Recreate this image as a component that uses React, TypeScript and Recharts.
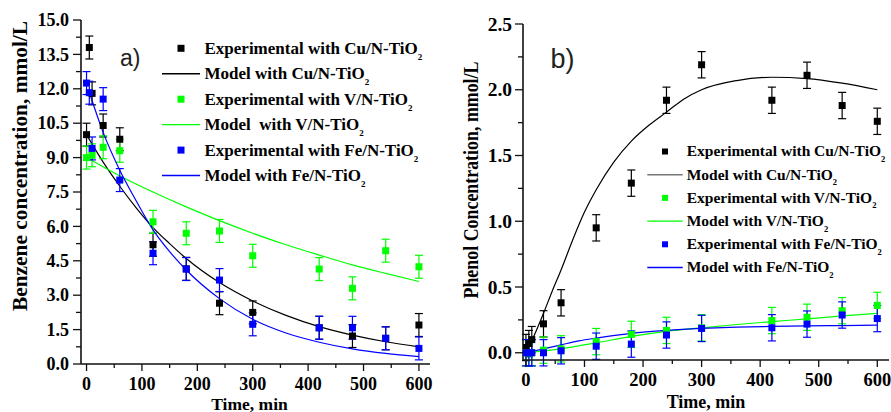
import React from 'react';
import { ComposedChart, Scatter, Line, XAxis, YAxis, ErrorBar } from 'recharts';

const SERIF = '"Liberation Serif", "Times New Roman", Times, serif';
const SANS = '"Liberation Sans", Arial, Helvetica, sans-serif';
const AXIS = '#111111';
const CU = '#000000';
const V = '#00ff00';
const FE = '#0000ff';

// ---------- a) benzene concentration, mmol/L ----------
const benzeneCuTime = [0, 5, 10, 30, 60, 120, 180, 240, 300, 420, 480, 540, 600];
const benzeneCu = [10.0, 13.8, 11.8, 10.4, 9.8, 5.2, 4.15, 2.65, 2.25, 1.58, 1.22, 1.12, 1.7];
const benzeneVTime = [0, 10, 30, 60, 120, 180, 240, 300, 420, 480, 540, 600];
const benzeneV = [9.0, 9.1, 9.45, 9.3, 6.2, 5.7, 5.8, 4.72, 4.14, 3.3, 4.94, 4.24];
const benzeneFeTime = [0, 5, 10, 30, 60, 120, 180, 240, 300, 420, 480, 540, 600];
const benzeneFe = [12.25, 11.83, 9.4, 11.55, 8.02, 4.83, 4.14, 3.66, 1.73, 1.58, 1.58, 1.12, 0.68];
const benzeneError = 0.5;

const benzeneModelCuTime = [0, 30, 60, 90, 120, 150, 180, 240, 300, 360, 420, 480, 540, 600];
const benzeneModelCu = [10.0, 8.8, 7.75, 6.8, 5.95, 5.25, 4.6, 3.55, 2.75, 2.12, 1.63, 1.26, 0.97, 0.75];
const benzeneModelVTime = [0, 60, 120, 180, 240, 300, 360, 420, 480, 540, 600];
const benzeneModelV = [9.0, 8.2, 7.5, 6.85, 6.25, 5.7, 5.2, 4.75, 4.32, 3.95, 3.6];
const benzeneModelFeTime = [5, 30, 60, 90, 120, 150, 180, 240, 300, 360, 420, 480, 540, 600];
const benzeneModelFe = [11.85, 10.1, 8.45, 7.1, 5.85, 4.9, 4.1, 2.85, 1.95, 1.35, 0.95, 0.66, 0.46, 0.32];

const benzeneTicks = [0, 1.5, 3, 4.5, 6, 7.5, 9, 10.5, 12, 13.5, 15];
const benzeneMinorTicks = [0.75, 2.25, 3.75, 5.25, 6.75, 8.25, 9.75, 11.25, 12.75, 14.25];

// ---------- b) phenol concentration, mmol/L ----------
const phenolTime = [0, 5, 10, 30, 60, 120, 180, 240, 300, 420, 480, 540, 600];
const phenolCu = [0.04, 0.07, 0.1, 0.22, 0.38, 0.95, 1.29, 1.92, 2.19, 1.92, 2.11, 1.88, 1.76];
const phenolV = [0, 0, 0, 0.02, 0.03, 0.085, 0.14, 0.17, 0.19, 0.245, 0.27, 0.32, 0.36];
const phenolFe = [0, 0, 0, 0, 0.015, 0.05, 0.066, 0.135, 0.185, 0.19, 0.218, 0.287, 0.26];
const phenolError = 0.1;

const phenolModelCuTime = [0, 15, 30, 45, 60, 80, 100, 120, 150, 180, 210, 240, 270, 300, 360, 420, 480, 540, 600];
const phenolModelCu = [0, 0.14, 0.3, 0.47, 0.63, 0.86, 1.07, 1.24, 1.45, 1.61, 1.73, 1.83, 1.93, 2.0, 2.07, 2.095, 2.085, 2.05, 2.0];
const phenolModelVTime = [0, 60, 120, 180, 240, 300, 360, 420, 480, 540, 600];
const phenolModelV = [0, 0.03, 0.075, 0.125, 0.163, 0.19, 0.215, 0.237, 0.258, 0.28, 0.3];
const phenolModelFeTime = [0, 30, 60, 90, 120, 180, 240, 300, 360, 420, 480, 540, 600];
const phenolModelFe = [0, 0.03, 0.06, 0.09, 0.112, 0.148, 0.17, 0.185, 0.195, 0.2, 0.204, 0.207, 0.21];

const phenolTicks = [0, 0.5, 1, 1.5, 2, 2.5];
const phenolMinorTicks = [0.25, 0.75, 1.25, 1.75, 2.25];

// ---------- shared time axis ----------
const timeTicks = [0, 100, 200, 300, 400, 500, 600];
const timeMinorTicks = [50, 150, 250, 350, 450, 550];

const legendLabels = [
  'Experimental with Cu/N-TiO',
  'Model with Cu/N-TiO',
  'Experimental with V/N-TiO',
  'Model  with V/N-TiO',
  'Experimental with Fe/N-TiO',
  'Model with Fe/N-TiO',
];
const legendLabelsB = [
  'Experimental with Cu/N-TiO',
  'Model with Cu/N-TiO',
  'Experimental with V/N-TiO',
  'Model with V/N-TiO',
  'Experimental with Fe/N-TiO',
  'Model with Fe/N-TiO',
];

const points = (t: number[], v: number[], err: number) => t.map((x, i) => ({ t: x, v: v[i], e: err }));
const curve = (t: number[], v: number[]) => t.map((x, i) => ({ t: x, v: v[i] }));
const allTicks = (a: number[], b: number[]) => [...a, ...b].sort((p, q) => p - q);

const square = (color: string, side: number) => (p: any) =>
  p.cx == null ? <g /> : <rect x={p.cx - side / 2} y={p.cy - side / 2} width={side} height={side} fill={color} />;

const labelFont = { fontFamily: SERIF, fontWeight: 700, fill: '#000' } as const;

const bottomTick = (majors: number[], size: number, dy: number) => (p: any) => {
  const v = p.payload.value;
  const major = majors.includes(v);
  return (
    <g>
      <line x1={p.x} x2={p.x} y1={p.y} y2={p.y + (major ? 7 : 4)} stroke={AXIS} strokeWidth={1.3} />
      {major && (
        <text x={p.x} y={p.y + dy} textAnchor="middle" fontSize={size} {...labelFont}>
          {v}
        </text>
      )}
    </g>
  );
};

const leftTick = (majors: number[], size: number, gap: number) => (p: any) => {
  const v = p.payload.value;
  const major = majors.includes(v);
  return (
    <g>
      <line x1={p.x - (major ? 8 : 5)} x2={p.x} y1={p.y} y2={p.y} stroke={AXIS} strokeWidth={1.3} />
      {major && (
        <text x={p.x - gap} y={p.y + size * 0.34} textAnchor="end" fontSize={size} {...labelFont}>
          {v.toFixed(1)}
        </text>
      )}
    </g>
  );
};

const topTick = (p: any) => <line x1={p.x} x2={p.x} y1={p.y} y2={p.y + 4} stroke={AXIS} strokeWidth={1.2} />;
const rightTick = (p: any) => <line x1={p.x - 4} x2={p.x} y1={p.y} y2={p.y} stroke={AXIS} strokeWidth={1.2} />;

const axisLine = { stroke: AXIS, strokeWidth: 1.6 };

type Legend = { x: number; y0: number; step: number; size: number; sub: number; subDy: number; lineX: [number, number]; sq: number; cuLine: string; labels: string[] };

function LegendBlock({ x, y0, step, size, sub, subDy, lineX, sq, cuLine, labels }: Legend) {
  const colors = [CU, cuLine, V, V, FE, FE];
  return (
    <g>
      {labels.map((label, i) => {
        const cy = y0 + i * step;
        const isModel = i % 2 === 1;
        const mid = (lineX[0] + lineX[1]) / 2;
        return (
          <g key={label}>
            {isModel ? (
              <line x1={lineX[0]} x2={lineX[1]} y1={cy} y2={cy} stroke={colors[i]} strokeWidth={1.4} />
            ) : (
              <rect x={mid - sq / 2} y={cy - sq / 2} width={sq} height={sq} fill={colors[i]} />
            )}
            <text x={x} y={cy + size * 0.32} fontSize={size} {...labelFont} style={{ whiteSpace: 'pre' }}>
              {label}
              <tspan fontSize={sub} dy={subDy}>2</tspan>
            </text>
          </g>
        );
      })}
    </g>
  );
}

function BenzenePanel() {
  return (
    <ComposedChart width={440} height={412} margin={{ top: 20, right: 10, left: 0, bottom: 0 }} style={{ position: 'absolute', left: 0, top: 0 }}>
      <XAxis xAxisId="b" dataKey="t" type="number" domain={[-10, 620]} allowDataOverflow ticks={allTicks(timeTicks, timeMinorTicks)} interval={0}
        height={48} tickSize={0} tickMargin={0} tickLine={false} axisLine={axisLine} tick={bottomTick(timeTicks, 18, 26)} />
      <XAxis xAxisId="top" orientation="top" dataKey="t" type="number" domain={[-10, 620]} allowDataOverflow ticks={allTicks(timeTicks, timeMinorTicks)} interval={0}
        height={0} tickSize={0} tickMargin={0} tickLine={false} axisLine={axisLine} tick={topTick} />
      <YAxis yAxisId="l" type="number" domain={[0, 15]} allowDataOverflow ticks={allTicks(benzeneTicks, benzeneMinorTicks)} interval={0}
        width={81} tickSize={0} tickMargin={0} tickLine={false} axisLine={axisLine} tick={leftTick(benzeneTicks, 18, 12)} />
      <YAxis yAxisId="r" orientation="right" type="number" domain={[0, 15]} allowDataOverflow ticks={allTicks(benzeneTicks, benzeneMinorTicks)} interval={0}
        width={0} tickSize={0} tickMargin={0} tickLine={false} axisLine={axisLine} tick={rightTick} />

      <Scatter xAxisId="b" yAxisId="l" data={points(benzeneCuTime, benzeneCu, benzeneError)} dataKey="v" shape={square(CU, 7)} isAnimationActive={false}>
        <ErrorBar dataKey="e" direction="y" width={4} stroke={CU} strokeWidth={1.2} />
      </Scatter>
      <Line xAxisId="b" yAxisId="l" data={curve(benzeneModelCuTime, benzeneModelCu)} dataKey="v" type="monotone" stroke={CU} strokeWidth={1.2} dot={false} activeDot={false} isAnimationActive={false} />
      <Scatter xAxisId="b" yAxisId="l" data={points(benzeneVTime, benzeneV, benzeneError)} dataKey="v" shape={square(V, 7)} isAnimationActive={false}>
        <ErrorBar dataKey="e" direction="y" width={4} stroke={V} strokeWidth={1.2} />
      </Scatter>
      <Line xAxisId="b" yAxisId="l" data={curve(benzeneModelVTime, benzeneModelV)} dataKey="v" type="monotone" stroke={V} strokeWidth={1.2} dot={false} activeDot={false} isAnimationActive={false} />
      <Scatter xAxisId="b" yAxisId="l" data={points(benzeneFeTime, benzeneFe, benzeneError)} dataKey="v" shape={square(FE, 7)} isAnimationActive={false}>
        <ErrorBar dataKey="e" direction="y" width={4} stroke={FE} strokeWidth={1.2} />
      </Scatter>
      <Line xAxisId="b" yAxisId="l" data={curve(benzeneModelFeTime, benzeneModelFe)} dataKey="v" type="monotone" stroke={FE} strokeWidth={1.2} dot={false} activeDot={false} isAnimationActive={false} />
    </ComposedChart>
  );
}

function PhenolPanel() {
  return (
    <ComposedChart width={451} height={412} margin={{ top: 24, right: 2, left: 0, bottom: 0 }} style={{ position: 'absolute', left: 440, top: 0 }}>
      <XAxis xAxisId="b" dataKey="t" type="number" domain={[-5, 620]} allowDataOverflow ticks={allTicks(timeTicks, timeMinorTicks)} interval={0}
        height={52} tickSize={0} tickMargin={0} tickLine={false} axisLine={axisLine} tick={bottomTick(timeTicks, 18.5, 26)} />
      <XAxis xAxisId="top" orientation="top" dataKey="t" type="number" domain={[-5, 620]} allowDataOverflow ticks={allTicks(timeTicks, timeMinorTicks)} interval={0}
        height={0} tickSize={0} tickMargin={0} tickLine={false} axisLine={axisLine} tick={topTick} />
      <YAxis yAxisId="l" type="number" domain={[-0.055, 2.5]} allowDataOverflow ticks={allTicks(phenolTicks, phenolMinorTicks)} interval={0}
        width={83} tickSize={0} tickMargin={0} tickLine={false} axisLine={axisLine} tick={leftTick(phenolTicks, 19.5, 11)} />
      <YAxis yAxisId="r" orientation="right" type="number" domain={[-0.055, 2.5]} allowDataOverflow ticks={allTicks(phenolTicks, phenolMinorTicks)} interval={0}
        width={0} tickSize={0} tickMargin={0} tickLine={false} axisLine={axisLine} tick={rightTick} />

      <Scatter xAxisId="b" yAxisId="l" data={points(phenolTime, phenolCu, phenolError)} dataKey="v" shape={square(CU, 7)} isAnimationActive={false}>
        <ErrorBar dataKey="e" direction="y" width={4} stroke={CU} strokeWidth={1.2} />
      </Scatter>
      <Line xAxisId="b" yAxisId="l" data={curve(phenolModelCuTime, phenolModelCu)} dataKey="v" type="monotone" stroke={CU} strokeWidth={1.2} dot={false} activeDot={false} isAnimationActive={false} />
      <Scatter xAxisId="b" yAxisId="l" data={points(phenolTime, phenolV, phenolError)} dataKey="v" shape={square(V, 7)} isAnimationActive={false}>
        <ErrorBar dataKey="e" direction="y" width={4} stroke={V} strokeWidth={1.2} />
      </Scatter>
      <Line xAxisId="b" yAxisId="l" data={curve(phenolModelVTime, phenolModelV)} dataKey="v" type="monotone" stroke={V} strokeWidth={1.2} dot={false} activeDot={false} isAnimationActive={false} />
      <Scatter xAxisId="b" yAxisId="l" data={points(phenolTime, phenolFe, phenolError)} dataKey="v" shape={square(FE, 7)} isAnimationActive={false}>
        <ErrorBar dataKey="e" direction="y" width={4} stroke={FE} strokeWidth={1.2} />
      </Scatter>
      <Line xAxisId="b" yAxisId="l" data={curve(phenolModelFeTime, phenolModelFe)} dataKey="v" type="monotone" stroke={FE} strokeWidth={1.2} dot={false} activeDot={false} isAnimationActive={false} />
    </ComposedChart>
  );
}

export default function App() {
  return (
    <div style={{ position: 'absolute', left: 0, top: 0, width: 891, height: 412, background: '#fff', overflow: 'hidden' }}>
      <BenzenePanel />
      <PhenolPanel />
      <svg width={891} height={412} style={{ position: 'absolute', left: 0, top: 0, pointerEvents: 'none' }}>
        {/* axis titles */}
        <text x={249.5} y={409.5} textAnchor="middle" fontSize={17.5} {...labelFont}>Time, min</text>
        <text x={706} y={408} textAnchor="middle" fontSize={18} {...labelFont}>Time, min</text>
        <text x={27} y={166} transform="rotate(-90 27 166)" textAnchor="middle" fontSize={21} textLength={290} lengthAdjust="spacingAndGlyphs" {...labelFont}>
          Benzene concentration, mmol/L
        </text>
        <text x={477.5} y={180} transform="rotate(-90 477.5 180)" textAnchor="middle" fontSize={20} textLength={237} lengthAdjust="spacingAndGlyphs" {...labelFont}>
          Phenol Concentration, mmol/L
        </text>

        {/* panel tags */}
        <text x={120} y={65.5} fontFamily={SANS} fontSize={23} fill="#222">a)</text>
        <text x={550.5} y={68.3} fontFamily={SANS} fontSize={27} fill="#222">b)</text>

        <LegendBlock x={204.5} y0={48.3} step={25.45} size={17} sub={9} subDy={6} lineX={[162, 200]} sq={7} cuLine={CU} labels={legendLabels} />
        <LegendBlock x={686.7} y0={151.5} step={23.2} size={15.5} sub={8.5} subDy={5.5} lineX={[647.3, 682.7]} sq={6} cuLine="#777777" labels={legendLabelsB} />
      </svg>
    </div>
  );
}
